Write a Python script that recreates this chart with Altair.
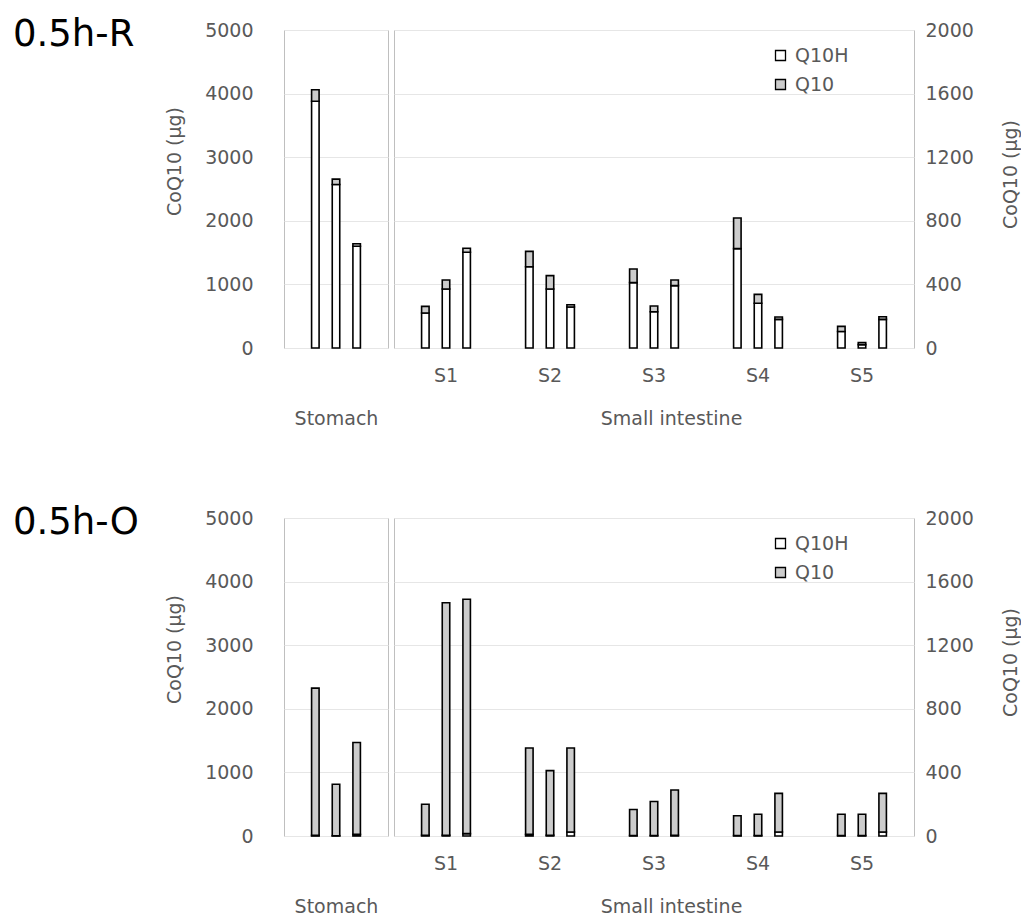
import altair as alt
import pandas as pd

FONT = "DejaVu Sans"
TEXT_GREY = "#595959"
GRID_GREY = "#e6e6e6"
FRAME_GREY = "#bfbfbf"
FS = 19

forms = ["Q10H", "Q10"]
form_colors = ["#ffffff", "#cccccc"]
segments = ["S1", "S2", "S3", "S4", "S5"]
replicates = [1, 2, 3]

# 0.5h-R : stomach (µg, left axis) and small-intestine segments (µg, right axis)
r_stomach_q10h = [3880, 2570, 1600]
r_stomach_q10 = [180, 85, 40]
r_si_q10h = [[220, 371, 602], [511, 371, 258], [411, 228, 392], [625, 281, 180], [104, 21, 180]]
r_si_q10 = [[42, 57, 25], [97, 84, 14], [86, 36, 36], [193, 56, 15], [32, 14, 17]]

# 0.5h-O
o_stomach_q10h = [10, 5, 25]
o_stomach_q10 = [2315, 808, 1444]
o_si_q10h = [[5, 5, 15], [10, 5, 25], [3, 3, 5], [3, 3, 25], [3, 3, 25]]
o_si_q10 = [[195, 1462, 1474], [543, 406, 528], [164, 214, 284], [124, 134, 243], [134, 134, 243]]

stomach_ticks = [0, 1000, 2000, 3000, 4000, 5000]
si_ticks = [0, 400, 800, 1200, 1600, 2000]


def long_table(regions, q10h, q10):
    rows = []
    for region, h_vals, o_vals in zip(regions, q10h, q10):
        for rep, h, o in zip(replicates, h_vals, o_vals):
            rows.append({"region": region, "rep": rep, "form": "Q10H", "value": h, "k": 0})
            rows.append({"region": region, "rep": rep, "form": "Q10", "value": o, "k": 1})
    return pd.DataFrame(rows)


def stacked(df, domain, width, ymax, y_axis, x_axis, legend):
    return alt.Chart(df).mark_bar(stroke="black", strokeWidth=1.6).encode(
        x=alt.X("region:N", scale=alt.Scale(domain=domain, paddingInner=0.404, paddingOuter=0.202),
                axis=x_axis),
        xOffset=alt.XOffset("rep:O", scale=alt.Scale(paddingInner=0.637, paddingOuter=0.3185)),
        y=alt.Y("value:Q", stack="zero", scale=alt.Scale(domain=[0, ymax], nice=False), axis=y_axis),
        color=alt.Color("form:N", scale=alt.Scale(domain=forms, range=form_colors), legend=legend),
        order=alt.Order("k:Q"),
    ).properties(width=width, height=318)


def panel(title, st_h, st_q, si_h, si_q):
    st_df = long_table(["Stomach"], [st_h], [st_q])
    si_df = long_table(segments, si_h, si_q)

    left_axis = alt.Axis(values=stomach_ticks, format="d", ticks=False, domain=False, labelPadding=31,
                         title="CoQ10 (µg)", titleX=-110, titleY=131, titleBaseline="middle",
                         grid=True)
    st_x_axis = alt.Axis(labels=False, ticks=False, domain=False, title="Stomach",
                         titleX=52, titleY=70, titleBaseline="middle")
    st = stacked(st_df, ["Stomach"], 104, 5000, left_axis, st_x_axis, None)

    label = alt.Chart(pd.DataFrame({"t": [title]})).mark_text(
        font=FONT, fontSize=37, color="black", align="left", baseline="alphabetic"
    ).encode(x=alt.value(-271), y=alt.value(16), text="t:N")
    st = alt.layer(st, label)

    right_axis = alt.Axis(orient="right", values=si_ticks, format="d", ticks=False, domain=False,
                          labelPadding=11, title="CoQ10 (µg)", titleAngle=270, titleX=96, titleY=144,
                          titleBaseline="middle", grid=True)
    si_x_axis = alt.Axis(labelAngle=0, ticks=False, domain=False, labelPadding=18,
                         title="Small intestine", titleX=277, titleY=70, titleBaseline="middle")
    legend = alt.Legend(orient="none", legendX=377, legendY=16, title=None, symbolType="square",
                        symbolSize=100, symbolStrokeColor="black", symbolStrokeWidth=1.3,
                        labelFontSize=FS, labelColor=TEXT_GREY, labelFont=FONT, labelOffset=5,
                        rowPadding=9, padding=0)
    si = stacked(si_df, segments, 520, 2000, right_axis, si_x_axis, legend)

    return alt.hconcat(st, si, spacing=4).resolve_scale(
        x="independent", y="independent", color="independent", xOffset="independent"
    ).resolve_legend(color="independent")


chart = alt.vconcat(
    panel("0.5h-R", r_stomach_q10h, r_stomach_q10, r_si_q10h, r_si_q10),
    panel("0.5h-O", o_stomach_q10h, o_stomach_q10, o_si_q10h, o_si_q10),
    spacing=74,
).properties(
    padding={"left": 12, "top": 15, "right": 0, "bottom": 0},
    background="white",
).configure_view(
    stroke=FRAME_GREY, strokeWidth=1
).configure_axis(
    gridColor=GRID_GREY, gridWidth=1,
    labelFont=FONT, labelFontSize=FS, labelColor=TEXT_GREY,
    titleFont=FONT, titleFontSize=FS, titleColor=TEXT_GREY, titleFontWeight="normal",
)

chart.save("out.html", embed_options={"renderer": "svg", "actions": False})
